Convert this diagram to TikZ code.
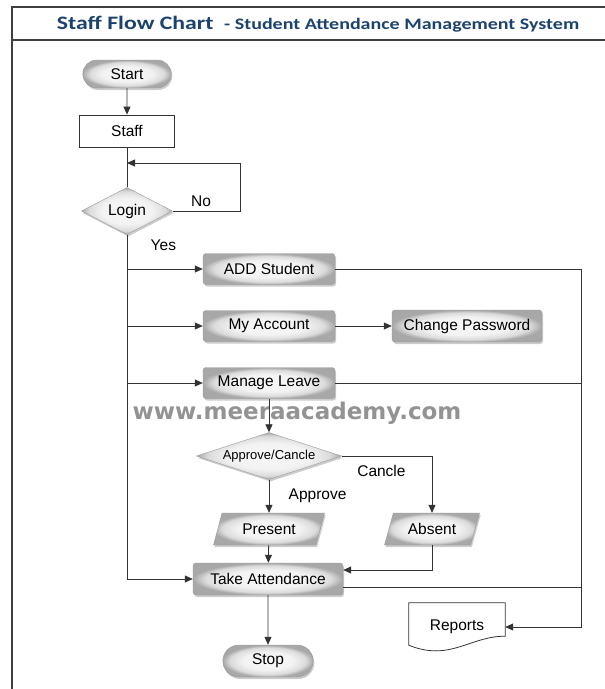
\documentclass[tikz,border=0pt]{standalone}
\usepackage{fontspec}
\setmainfont{Liberation Sans}
\newfontfamily\titlefont[FakeStretch=1.25]{Carlito}
\newfontfamily\markfont{DejaVu Sans}
\usetikzlibrary{arrows.meta,shapes.geometric,shapes.misc,shadows}
\definecolor{titleblue}{RGB}{28,66,110}
\pgfdeclareradialshading{rim}{\pgfpoint{0bp}{0bp}}{color(0bp)=(black!3); color(14bp)=(black!5); color(21bp)=(black!14); color(25bp)=(black!34); color(50bp)=(black!36)}

\begin{document}
\begin{tikzpicture}[x=1pt,y=-1pt,font=\fontsize{15.5}{18}\selectfont]
\tikzset{
arr/.style={-{Triangle[length=8pt,width=7pt]}},
conn/.style={draw=black!80,line width=0.8pt},
glow/.style={draw=black!40,shading=rim,
drop shadow={shadow xshift=1.2pt,shadow yshift=-2pt,opacity=0.4}},
proc/.style={glow,rectangle,rounded corners=3pt,minimum width=132pt,minimum height=31pt,inner sep=2pt},
term/.style={glow,rounded rectangle,minimum width=95pt,minimum height=28pt},
deci/.style={glow,diamond,aspect=3,inner sep=0pt},
io/.style={glow,trapezium,trapezium left angle=60,trapezium right angle=120,
trapezium stretches body,minimum height=32pt,inner sep=2pt}
}
\useasboundingbox (0,0) rectangle (605,689);
\draw[line width=1.2pt,black!75] (605,7) -- (12,7) -- (12,689);
\draw[line width=1.2pt,black!75] (12,40) -- (605,40);
\node (title) at (318,24) {\titlefont\bfseries\color{titleblue}\fontsize{19}{22}\selectfont Staff Flow Chart\ \ \fontsize{16}{18}\selectfont - Student Attendance Management System};
\node[text=gray!85,font=\markfont\bfseries\fontsize{23}{26}\selectfont] (wm) at (297,413) {www.meeraacademy.com};

\node[term] (start) at (127,74) {Start};
\node[draw=black!80,line width=0.8pt,minimum width=95pt,minimum height=32pt] (staff) at (127,131) {Staff};
\node[deci,minimum width=91pt,minimum height=47pt] (login) at (127,211) {Login};
\node[proc] (add) at (269,269) {ADD Student};
\node[proc] (acc) at (269,326) {My Account};
\node[proc,minimum width=150pt,minimum height=32pt] (chg) at (467,326) {Change Password};
\node[proc] (leave) at (269,383) {Manage Leave};
\node[deci,minimum width=145pt,minimum height=47pt,font=\fontsize{13}{15}\selectfont] (apc) at (269,456) {Approve/Cancle};
\node[io,minimum width=111pt] (pres) at (269,529) {Present};
\node[io,minimum width=95pt] (abs) at (432,529) {Absent};
\node[proc,minimum width=150pt,minimum height=32pt] (take) at (268,579) {Take Attendance};
\node[term,minimum width=97pt,minimum height=32pt] (stop) at (268,661) {Stop};
\node[minimum width=96pt,minimum height=48pt] (rep) at (457,627) {Reports};
\draw[conn] (rep.north west) -- (rep.north east) -- ([yshift=15pt]rep.south east)
  .. controls (470,636) and (450,662) .. ([yshift=6pt]rep.south west) -- cycle;

\draw[conn,arr] (start) -- (staff);
\draw[conn] (staff) -- (login);
\coordinate (noback) at (240,163);
\draw[conn,arr] (login.east) -| node[pos=0.21,above=1pt]{No} (noback) -- (staff.south |- noback);
\draw[conn,arr] (login.south) -- node[pos=0.03,right=20pt]{Yes} (login.south |- take.west) -- (take.west);
\foreach \n in {add,acc,leave}
  \draw[conn,arr] (login.south |- \n.west) -- (\n.west);
\draw[conn,arr] (acc) -- (chg);
\coordinate (rline) at (581,0);
\draw[conn,arr] (add.east) -| (rline |- rep.east) -- (rep.east);
\draw[conn] (leave.east) -- (leave.east -| rline);
\coordinate (takeout) at ([yshift=-8pt]take.east);
\draw[conn] (takeout) -- (takeout -| rline);
\draw[conn,arr] (leave) -- (apc);
\draw[conn,arr] (apc.east) -| node[pos=0.22,below=6pt]{Cancle} (abs.north);
\draw[conn,arr] (apc) -- node[right=16pt]{Approve} (pres);
\draw[conn,arr] (pres) -- (take);
\coordinate (takein) at ([yshift=9pt]take.east);
\draw[conn,arr] (abs.south) |- (takein);
\draw[conn,arr] (take) -- (stop);
\end{tikzpicture}
\end{document}
